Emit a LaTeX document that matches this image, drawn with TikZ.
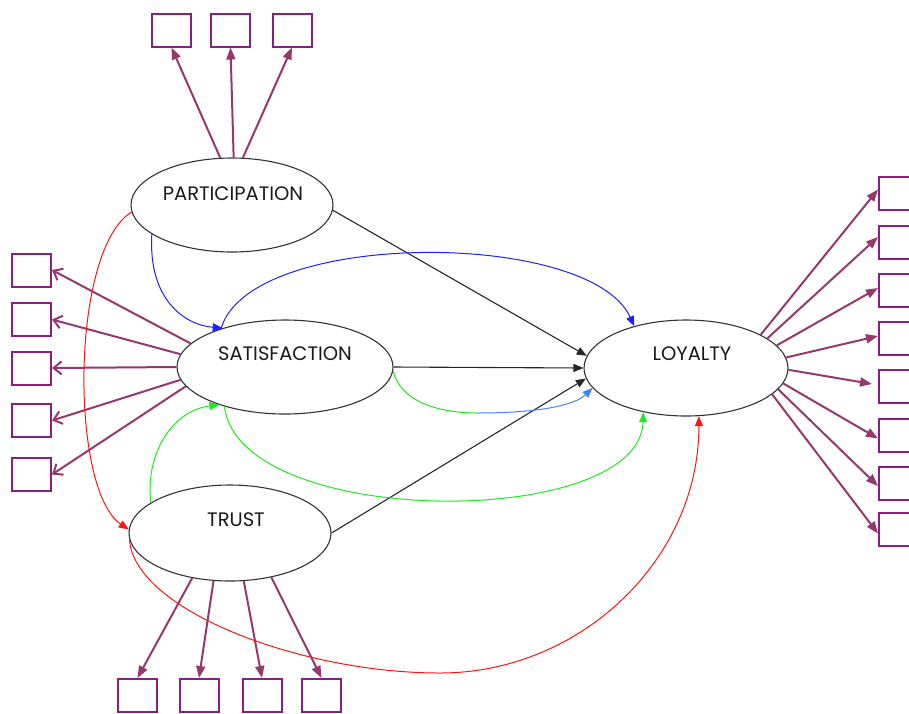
\documentclass[tikz,border=0pt]{standalone}
\usepackage{fontspec}
\setmainfont{Poppins}
\usetikzlibrary{arrows.meta,shapes.geometric}
\definecolor{plum}{RGB}{150,55,110}
\definecolor{boxpurple}{RGB}{140,30,130}
\definecolor{cblue}{RGB}{30,30,255}
\definecolor{cgreen}{RGB}{30,235,30}
\definecolor{cred}{RGB}{255,20,20}
\definecolor{lblue}{RGB}{70,130,255}
\begin{document}
\begin{tikzpicture}[x=1pt,y=-1pt,
  latent/.style={ellipse,draw=black!80,line width=1.1pt,inner sep=0pt,fill=white},
  lbl/.style={font=\fontsize{19.5}{22}\selectfont,text=black!90,inner sep=0pt},
  ind/.style={rectangle,draw=boxpurple,line width=2pt,minimum width=39pt,minimum height=33pt,inner sep=0pt},
  load/.style={draw=plum,line width=2pt,-{Triangle[length=12pt,width=9pt]}},
  loadopen/.style={draw=plum,line width=2pt,-{Straight Barb[length=8pt,width=13pt,line width=2pt]}},
  path/.style={draw=black!85,line width=1.1pt,-{Triangle[length=10pt,width=8pt]}},
  cov/.style={line width=1pt,-{Triangle[length=10pt,width=8pt]}}
]
\useasboundingbox (0,0) rectangle (909,713);
\clip (0,0) rectangle (909,713);

% latent variables
\node[latent,minimum width=202pt,minimum height=94pt] (part) at (232,205) {};
\node[latent,minimum width=216pt,minimum height=94pt] (sat) at (285,367) {};
\node[latent,minimum width=202pt,minimum height=96pt] (trust) at (230,533) {};
\node[latent,minimum width=204pt,minimum height=96pt] (loy) at (686,368) {};
\node[lbl] (partT) at (233,194) {PARTICIPATION};
\node[lbl] (satT) at (285,354) {SATISFACTION};
\node[lbl] (trustT) at (236,520) {TRUST};
\node[lbl] (loyT) at (692,354) {LOYALTY};

% indicator boxes
\node[ind] (t1) at (171.5,30) {};
\node[ind] (t2) at (230.5,30) {};
\node[ind] (t3) at (292,30) {};
\node[ind] (l1) at (31.5,270) {};
\node[ind] (l2) at (31.5,319.5) {};
\node[ind] (l3) at (31.5,368) {};
\node[ind] (l4) at (31.5,420.5) {};
\node[ind] (l5) at (31.5,474.5) {};
\node[ind] (b1) at (137.5,695.5) {};
\node[ind] (b2) at (199,695.5) {};
\node[ind] (b3) at (262,695.5) {};
\node[ind] (b4) at (321.5,695.5) {};
\node[ind] (r1) at (898.5,193.5) {};
\node[ind] (r2) at (898.5,242) {};
\node[ind] (r3) at (898.5,290) {};
\node[ind] (r4) at (898.5,338) {};
\node[ind] (r5) at (898.5,386) {};
\node[ind] (r6) at (898.5,435.5) {};
\node[ind] (r7) at (898.5,483) {};
\node[ind] (r8) at (898.5,529.5) {};

% loadings
\draw[load] (part.104) -- (t1.south);
\draw[load] (part.88) -- (t2.south);
\draw[load] (part.77) -- (t3.south);
\draw[loadopen] (sat.166) -- (l1.east);
\draw[loadopen] (sat.173.5) -- (l2.east);
\draw[loadopen] (sat.180) -- (l3.east);
\draw[loadopen] (sat.187) -- (l4.east);
\draw[loadopen] (sat.191) -- (l5.east);
\draw[load] (trust.230) -- (b1.north);
\draw[load] (trust.251.5) -- (b2.north);
\draw[load] (trust.286) -- (b3.north);
\draw[load] (trust.313) -- (b4.north);
\draw[load] (loy.24) -- ([yshift=4pt]r1.west);
\draw[load] (loy.20) -- ([yshift=5pt]r2.west);
\draw[load] (loy.14.3) -- ([yshift=2pt]r3.west);
\draw[load] (loy.6.6) -- ([yshift=2pt]r4.west);
\draw[load] (loy.-1) -- ([xshift=-6pt,yshift=2pt]r5.west);
\draw[load] (loy.-9) -- ([yshift=-3pt]r6.west);
\draw[load] (loy.-13) -- ([yshift=-3pt]r7.west);
\draw[load] (loy.-17.5) -- ([yshift=-4pt]r8.west);

% structural paths
\draw[path] (part.-3) -- (loy.173);
\draw[path] (sat.east) -- (loy.west);
\draw[path] (trust.east) -- (loy.186.6);

% curved relations
\draw[cov,cblue] (part.200) .. controls (148,300) and (185,325) .. (sat.148);
\draw[cov,cblue] (sat.149) .. controls (250,229) and (590,229) .. (loy.141);
\draw[cov,cgreen] (trust.159) .. controls (145,450) and (175,410) .. (sat.210);
\draw[cov,cgreen] (sat.213) .. controls (240,530) and (640,530) .. (loy.226);
\coordinate (gb) at (477,413);
\draw[line width=1pt,cgreen] (sat.-2.6) .. controls (400,402) and (440,413) .. (gb);
\draw[cov,lblue] (gb) .. controls (540,413) and (575,405) .. (loy.192);
\draw[cov,cred] (part.184) .. controls (70,250) and (70,490) .. (trust.178);
\coordinate (rb) at (440,673);
\draw[line width=1pt,cred] (trust.184) .. controls (135,610) and (300,673) .. (rb);
\draw[cov,cred] (rb) .. controls (580,673) and (699,560) .. (loy.285.5);
\end{tikzpicture}
\end{document}
